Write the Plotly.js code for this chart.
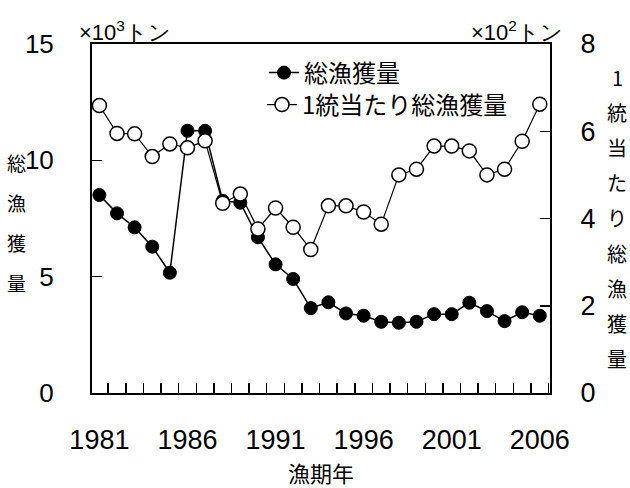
<!DOCTYPE html>
<html><head><meta charset="utf-8">
<script src="https://cdn.plot.ly/plotly-3.0.1.min.js"></script>
<style>body{margin:0;background:#fff}</style>
</head><body>
<div id="chart" style="width:630px;height:488px"></div>
<script>
const years = [1981,1982,1983,1984,1985,1986,1987,1988,1989,1990,1991,1992,1993,1994,1995,1996,1997,1998,1999,2000,2001,2002,2003,2004,2005,2006];
const totalCatch = [8.51,7.72,7.12,6.29,5.17,11.27,11.27,8.26,8.18,6.69,5.53,4.9,3.65,3.9,3.42,3.32,3.06,3.02,3.06,3.39,3.39,3.88,3.52,3.09,3.47,3.32];
const catchPerUnit = [6.59,5.95,5.94,5.42,5.71,5.62,5.78,4.35,4.56,3.76,4.24,3.8,3.29,4.29,4.29,4.15,3.87,5.0,5.13,5.66,5.66,5.55,5.0,5.13,5.77,6.62];
const xTickVals = [1981,1986,1991,1996,2001,2006];
const xTickText = ['1981','1986','1991','1996','2001','2006'];
const leftTicks = [0,5,10,15];
const rightTicks = [0,2,4,6,8];
const seriesNames = ['総漁獲量','1統当たり総漁獲量'];
const leftTitle = '総漁獲量';
const rightTitle = '1統当たり総漁獲量';
const xTitle = '漁期年';
const leftUnit = '×10<sup>3</sup>トン';
const rightUnit = '×10<sup>2</sup>トン';

const FONT = '"Liberation Sans", Arial, sans-serif';
const CJK = '"Noto Sans CJK JP", sans-serif';
const L = 92, R = 550, T = 44, B = 393;
const px = x => (x - L) / (R - L);
const py = y => (B - y) / (B - T);

const traces = [
  {x: years, y: totalCatch, name: seriesNames[0], type: 'scatter', mode: 'lines+markers', legend: 'legend',
   line: {color: '#000', width: 1.5}, marker: {color: '#000', size: 13, line: {color: '#000', width: 1}}, yaxis: 'y'},
  {x: years, y: catchPerUnit, name: seriesNames[1], type: 'scatter', mode: 'lines+markers', legend: 'legend2',
   line: {color: '#000', width: 1.2}, marker: {color: '#fff', size: 14, line: {color: '#000', width: 1.5}}, yaxis: 'y2'}
];

const annotations = [];
[...leftTitle].forEach((c, i) => annotations.push({text: c, xref: 'paper', yref: 'paper', x: px(16), y: py(162 + i * 40.3),
  showarrow: false, xanchor: 'center', yanchor: 'middle', borderpad: 0, font: {family: CJK, size: 19, color: '#000'}}));
[...rightTitle].forEach((c, i) => annotations.push({text: c, xref: 'paper', yref: 'paper', x: px(617), y: py(77 + i * 35.2),
  showarrow: false, xanchor: 'center', yanchor: 'middle', borderpad: 0, font: {family: CJK, size: 20, color: '#000'}}));
annotations.push({text: leftUnit, xref: 'paper', yref: 'paper', x: px(77), y: py(47), showarrow: false,
  xanchor: 'left', yanchor: 'bottom', font: {family: FONT, size: 22, color: '#000'}});
annotations.push({text: rightUnit, xref: 'paper', yref: 'paper', x: px(565), y: py(47), showarrow: false,
  xanchor: 'right', yanchor: 'bottom', font: {family: FONT, size: 22, color: '#000'}});
annotations.push({text: xTitle, xref: 'paper', yref: 'paper', x: px(321), y: py(472), showarrow: false,
  xanchor: 'center', yanchor: 'middle', font: {family: CJK, size: 22, color: '#000'}});

const legendBase = {xanchor: 'left', yanchor: 'middle', bgcolor: 'rgba(0,0,0,0)', borderwidth: 0,
  font: {family: CJK, size: 24, color: '#000'}, itemwidth: 30};

const layout = {
  width: 630, height: 488,
  margin: {l: L, r: 630 - R, t: T, b: 488 - B, pad: 0},
  paper_bgcolor: '#fff', plot_bgcolor: '#fff',
  font: {family: FONT, color: '#000'},
  showlegend: true,
  legend: Object.assign({}, legendBase, {x: px(264), y: py(73)}),
  legend2: Object.assign({}, legendBase, {x: px(262), y: py(105)}),
  xaxis: {range: [1980.58, 2006.58], tickvals: xTickVals, ticktext: xTickText, ticks: '',
    tickfont: {family: FONT, size: 27, color: '#000'}, ticklabelstandoff: 22,
    showline: true, linecolor: '#000', linewidth: 2, mirror: true, showgrid: false, zeroline: false,
    minor: {ticks: 'inside', ticklen: 10, tickwidth: 1.5, tickcolor: '#000', tick0: 1981.5, dtick: 1, showgrid: false}},
  yaxis: {range: [0, 15], tickvals: leftTicks, ticks: 'inside', ticklen: 10, tickwidth: 1.5, tickcolor: '#000',
    tickfont: {family: FONT, size: 26, color: '#000'}, ticklabelstandoff: 31,
    showline: true, linecolor: '#000', linewidth: 2, showgrid: false, zeroline: false},
  yaxis2: {range: [0, 8], tickvals: rightTicks, overlaying: 'y', side: 'right', ticks: 'inside', ticklen: 10, tickwidth: 1.5, tickcolor: '#000',
    tickfont: {family: FONT, size: 27, color: '#000'}, ticklabelstandoff: 23,
    showline: true, linecolor: '#000', linewidth: 2, showgrid: false, zeroline: false},
  annotations: annotations
};
Plotly.newPlot('chart', traces, layout, {displayModeBar: false, staticPlot: true});
</script>
</body></html>
